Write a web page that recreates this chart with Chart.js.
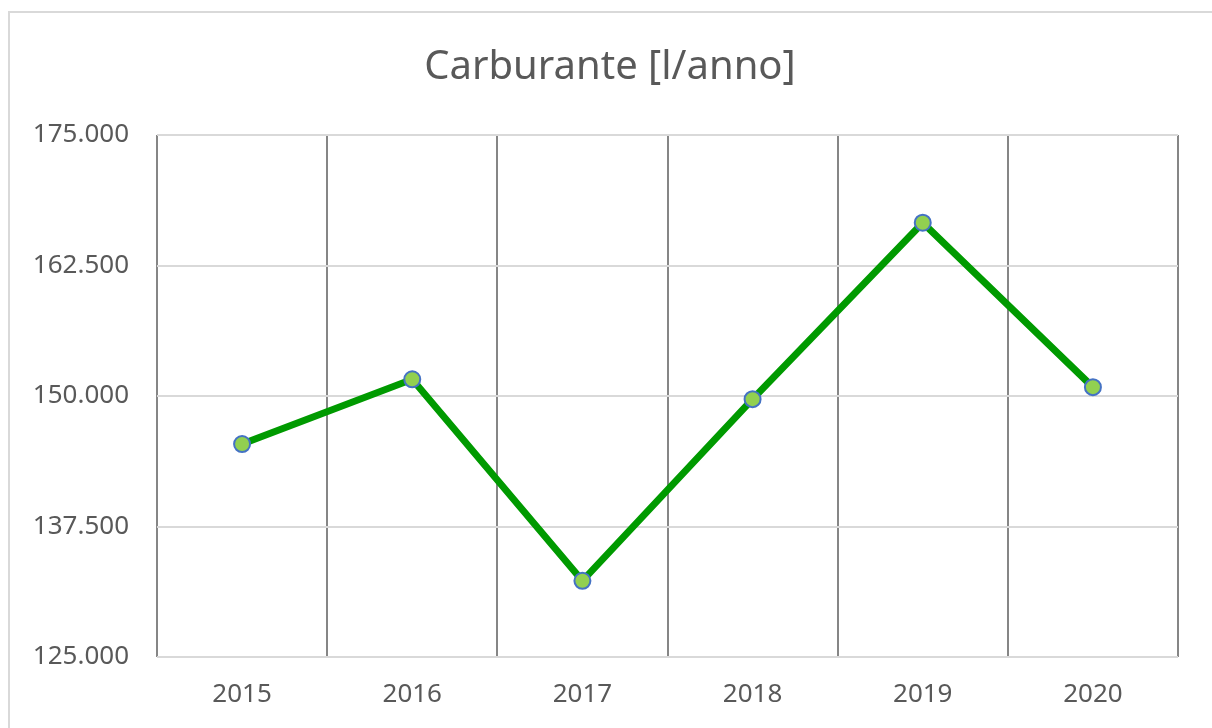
<!DOCTYPE html>
<html>
<head>
<meta charset="utf-8">
<title>Carburante [l/anno]</title>
<script src="https://cdn.jsdelivr.net/npm/chart.js@4"></script>
<style>
    html, body { margin: 0; padding: 0; background: #fff; overflow: hidden; }
    #frame {
        position: absolute; left: 8px; top: 11px;
        width: 1300px; height: 800px;
        border: 2px solid #d9d9d9;
    }
    #wrap { position: absolute; left: 0; top: 0; width: 1212px; height: 728px; }
</style>
</head>
<body>
<div id="frame"></div>
<div id="wrap"><canvas id="fuelChart" width="1212" height="728"></canvas></div>
<script>
// Data
const years = ['2015', '2016', '2017', '2018', '2019', '2020'];
const fuelLitres = [145400, 151600, 132300, 149700, 166600, 150850];
const yMin = 125000;
const yMax = 175000;
const yStep = 12500;
const chartTitle = 'Carburante [l/anno]';

function formatThousands(v) {
    return String(v).replace(/\B(?=(\d{3})+(?!\d))/g, '.');
}

// Title is centred on the whole frame, not on the padded layout box
const frameTitle = {
    id: 'frameTitle',
    afterDraw(chart) {
        const c = chart.ctx;
        c.save();
        c.font = '40px "Noto Sans"';
        c.fillStyle = '#595959';
        c.textAlign = 'center';
        c.textBaseline = 'middle';
        c.fillText(chartTitle, 610, 68);
        c.restore();
    }
};

const ctx = document.getElementById('fuelChart').getContext('2d');

const fuelChart = new Chart(ctx, {
    type: 'line',
    data: {
        labels: years,
        datasets: [{
            label: 'Carburante',
            data: fuelLitres,
            borderColor: '#009a00',
            borderWidth: 7,
            pointRadius: 8,
            pointBackgroundColor: '#92d050',
            pointBorderColor: '#4472c4',
            pointBorderWidth: 2,
            tension: 0,
            fill: false
        }]
    },
    options: {
        responsive: false,
        animation: false,
        layout: {
            padding: { top: 135, right: 34, bottom: 0, left: 0 }
        },
        plugins: {
            legend: { display: false },
            tooltip: { enabled: false },
            title: { display: false }
        },
        scales: {
            x: {
                offset: true,
                grid: {
                    offset: true,
                    color: '#868686',
                    lineWidth: 2,
                    drawTicks: false
                },
                border: { display: false },
                ticks: {
                    color: '#595959',
                    font: { family: 'Noto Sans', size: 26 },
                    padding: 22,
                    maxRotation: 0
                },
                afterFit: function (axis) { axis.height = 71; }
            },
            y: {
                min: yMin,
                max: yMax,
                grid: {
                    color: '#d9d9d9',
                    lineWidth: 2,
                    drawTicks: false
                },
                border: { display: false },
                ticks: {
                    stepSize: yStep,
                    color: '#595959',
                    font: { family: 'Noto Sans', size: 26 },
                    padding: 28,
                    callback: function (v) { return formatThousands(v); }
                },
                afterFit: function (axis) { axis.width = 157; }
            }
        }
    },
    plugins: [frameTitle]
});
</script>
</body>
</html>
